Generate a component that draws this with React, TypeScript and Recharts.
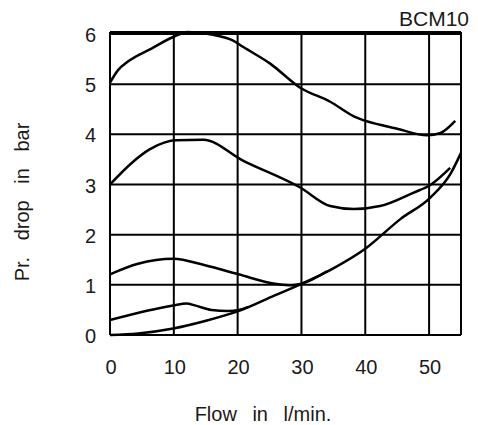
import React from "react";
import { LineChart, Line, XAxis, YAxis, CartesianGrid, ReferenceLine } from "recharts";

const xTicks = [0, 10, 20, 30, 40, 50];
const yTicks = [0, 1, 2, 3, 4, 5, 6];

const curveTop = [
  { flow: 0, drop: 5.03 }, { flow: 1.26, drop: 5.28 }, { flow: 2.8, drop: 5.45 },
  { flow: 6.5, drop: 5.71 }, { flow: 9.9, drop: 5.94 }, { flow: 12.2, drop: 6.04 },
  { flow: 15.9, drop: 5.99 }, { flow: 19.3, drop: 5.87 }, { flow: 20.9, drop: 5.74 },
  { flow: 25.1, drop: 5.41 }, { flow: 29.8, drop: 4.93 }, { flow: 34.5, drop: 4.65 },
  { flow: 38.2, drop: 4.36 }, { flow: 42.3, drop: 4.19 }, { flow: 45, drop: 4.11 },
  { flow: 49.7, drop: 3.98 }, { flow: 51.8, drop: 4.03 }, { flow: 54.1, drop: 4.27 },
];
const curveSecond = [
  { flow: 0, drop: 3.0 }, { flow: 3.4, drop: 3.43 }, { flow: 6.2, drop: 3.7 },
  { flow: 8.6, drop: 3.84 }, { flow: 10.4, drop: 3.88 }, { flow: 14.6, drop: 3.89 },
  { flow: 20.9, drop: 3.47 }, { flow: 29.8, drop: 2.94 }, { flow: 34.5, drop: 2.57 },
  { flow: 38.2, drop: 2.51 }, { flow: 42.3, drop: 2.57 }, { flow: 47.6, drop: 2.84 },
  { flow: 50.2, drop: 2.99 }, { flow: 53.3, drop: 3.33 },
];
const curveThird = [
  { flow: 0, drop: 1.21 }, { flow: 4.4, drop: 1.42 }, { flow: 9.9, drop: 1.52 },
  { flow: 14.9, drop: 1.39 }, { flow: 20.1, drop: 1.21 }, { flow: 26.4, drop: 1.01 },
  { flow: 28.5, drop: 0.99 }, { flow: 30, drop: 1.02 }, { flow: 34, drop: 1.27 },
];
const curveFourth = [
  { flow: 0, drop: 0.3 }, { flow: 9.9, drop: 0.59 }, { flow: 12, drop: 0.63 },
  { flow: 13.3, drop: 0.59 }, { flow: 15.9, drop: 0.5 }, { flow: 18.5, drop: 0.48 },
  { flow: 20.2, drop: 0.5 }, { flow: 21.7, drop: 0.56 },
];
const curveBase = [
  { flow: 0, drop: 0 }, { flow: 4.4, drop: 0.03 }, { flow: 9.9, drop: 0.13 },
  { flow: 14.9, drop: 0.28 }, { flow: 20.2, drop: 0.48 }, { flow: 25.3, drop: 0.76 },
  { flow: 30, drop: 1.02 }, { flow: 35, drop: 1.33 }, { flow: 40, drop: 1.72 },
  { flow: 45.5, drop: 2.31 }, { flow: 50.2, drop: 2.74 }, { flow: 53.3, drop: 3.2 },
  { flow: 55, drop: 3.63 },
];

const series = [curveTop, curveSecond, curveThird, curveFourth, curveBase];

const FONT = "'Liberation Sans', Arial, sans-serif";
const TEXT = "#1a1a1a";

export default function App() {
  return (
    <div style={{ position: "relative", width: 470, height: 417, fontFamily: FONT }}>
      <style>{"html { overflow: hidden; }"}</style>
      <LineChart
        width={470}
        height={417}
        margin={{ top: 24, right: 17, left: 0, bottom: 60 }}
      >
        <CartesianGrid stroke="#000" strokeWidth={2} />
        <XAxis
          type="number"
          dataKey="flow"
          domain={[0, 55]}
          ticks={xTicks}
          axisLine={false}
          tickLine={false}
          tickSize={0}
          tickMargin={25}
          height={30}
          tick={{ fill: TEXT, fontSize: 20, fontFamily: FONT, dx: 1 }}
        />
        <YAxis
          type="number"
          domain={[0, 6]}
          ticks={yTicks}
          axisLine={false}
          tickLine={false}
          tickSize={0}
          tickMargin={14}
          width={102}
          tick={{ fill: TEXT, fontSize: 20, fontFamily: FONT, dy: 1 }}
        />
        <ReferenceLine x={55} stroke="#000" strokeWidth={2} />
        {series.map((d, i) => (
          <Line
            key={i}
            data={d}
            dataKey="drop"
            type="monotone"
            stroke="#000"
            strokeWidth={2.5}
            dot={false}
            activeDot={false}
            isAnimationActive={false}
          />
        ))}
      </LineChart>
      <div
        style={{
          position: "absolute", right: 9, top: 0, fontSize: 21, color: TEXT, lineHeight: "21px",
          whiteSpace: "nowrap",
        }}
      >
        BCM10
      </div>
      <div
        style={{
          position: "absolute", left: 255 - 100, width: 200, top: 396, textAlign: "center",
          fontSize: 20, color: TEXT, wordSpacing: 10, lineHeight: "20px", whiteSpace: "nowrap",
        }}
      >
        Flow in l/min.
      </div>
      <div
        style={{
          position: "absolute", left: 14 - 100, width: 200, top: 194 - 10, textAlign: "center",
          fontSize: 20, color: TEXT, wordSpacing: 11, lineHeight: "20px", whiteSpace: "nowrap",
          transform: "rotate(-90deg)",
        }}
      >
        Pr. drop in bar
      </div>
    </div>
  );
}
